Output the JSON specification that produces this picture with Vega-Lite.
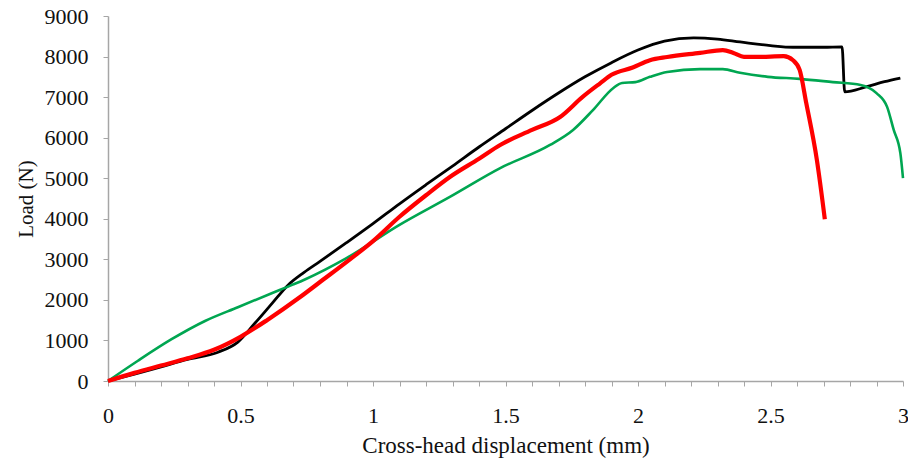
{
  "$schema": "https://vega.github.io/schema/vega-lite/v6.json",
  "width": 795,
  "height": 365,
  "autosize": "none",
  "padding": {"left": 108, "top": 16, "right": 5, "bottom": 77},
  "background": "white",
  "config": {"view": {"stroke": null}, "axis": {"grid": false}},
  "data": {"values": [
    {"s": "A", "x": 0, "y": 0},
    {"s": "A", "x": 0.1, "y": 170},
    {"s": "A", "x": 0.2, "y": 350},
    {"s": "A", "x": 0.3, "y": 530},
    {"s": "A", "x": 0.415, "y": 710},
    {"s": "A", "x": 0.49, "y": 960},
    {"s": "A", "x": 0.555, "y": 1430},
    {"s": "A", "x": 0.62, "y": 1920},
    {"s": "A", "x": 0.68, "y": 2370},
    {"s": "A", "x": 0.74, "y": 2680},
    {"s": "A", "x": 0.8, "y": 2950},
    {"s": "A", "x": 0.9, "y": 3410},
    {"s": "A", "x": 1.0, "y": 3880},
    {"s": "A", "x": 1.1, "y": 4370},
    {"s": "A", "x": 1.2, "y": 4840},
    {"s": "A", "x": 1.3, "y": 5300},
    {"s": "A", "x": 1.4, "y": 5770},
    {"s": "A", "x": 1.5, "y": 6220},
    {"s": "A", "x": 1.6, "y": 6670},
    {"s": "A", "x": 1.7, "y": 7100},
    {"s": "A", "x": 1.8, "y": 7500},
    {"s": "A", "x": 1.9, "y": 7850},
    {"s": "A", "x": 2.0, "y": 8160},
    {"s": "A", "x": 2.1, "y": 8380},
    {"s": "A", "x": 2.21, "y": 8460},
    {"s": "A", "x": 2.3, "y": 8430},
    {"s": "A", "x": 2.385, "y": 8360},
    {"s": "A", "x": 2.5, "y": 8270},
    {"s": "A", "x": 2.585, "y": 8230},
    {"s": "A", "x": 2.7, "y": 8230},
    {"s": "A", "x": 2.77, "y": 8240},
    {"s": "A", "x": 2.78, "y": 7130},
    {"s": "A", "x": 2.86, "y": 7250},
    {"s": "A", "x": 2.93, "y": 7380},
    {"s": "A", "x": 2.99, "y": 7470},
    {"s": "C", "x": 0, "y": 0},
    {"s": "C", "x": 0.113, "y": 500},
    {"s": "C", "x": 0.24, "y": 1030},
    {"s": "C", "x": 0.366, "y": 1480},
    {"s": "C", "x": 0.49, "y": 1820},
    {"s": "C", "x": 0.62, "y": 2170},
    {"s": "C", "x": 0.695, "y": 2370},
    {"s": "C", "x": 0.745, "y": 2510},
    {"s": "C", "x": 0.9, "y": 3030},
    {"s": "C", "x": 1.1, "y": 3850},
    {"s": "C", "x": 1.29, "y": 4540},
    {"s": "C", "x": 1.48, "y": 5250},
    {"s": "C", "x": 1.668, "y": 5820},
    {"s": "C", "x": 1.755, "y": 6190},
    {"s": "C", "x": 1.83, "y": 6680},
    {"s": "C", "x": 1.906, "y": 7220},
    {"s": "C", "x": 1.94, "y": 7350},
    {"s": "C", "x": 1.99, "y": 7370},
    {"s": "C", "x": 2.045, "y": 7500},
    {"s": "C", "x": 2.11, "y": 7620},
    {"s": "C", "x": 2.234, "y": 7690},
    {"s": "C", "x": 2.32, "y": 7690},
    {"s": "C", "x": 2.385, "y": 7600},
    {"s": "C", "x": 2.49, "y": 7500},
    {"s": "C", "x": 2.61, "y": 7450},
    {"s": "C", "x": 2.735, "y": 7370},
    {"s": "C", "x": 2.84, "y": 7300},
    {"s": "C", "x": 2.9, "y": 7100},
    {"s": "C", "x": 2.94, "y": 6760},
    {"s": "C", "x": 2.965, "y": 6190},
    {"s": "C", "x": 2.99, "y": 5620},
    {"s": "C", "x": 3.0, "y": 5000},
    {"s": "B", "x": 0, "y": 0},
    {"s": "B", "x": 0.1, "y": 200},
    {"s": "B", "x": 0.2, "y": 380},
    {"s": "B", "x": 0.3, "y": 560},
    {"s": "B", "x": 0.4, "y": 770},
    {"s": "B", "x": 0.5, "y": 1090},
    {"s": "B", "x": 0.6, "y": 1500},
    {"s": "B", "x": 0.725, "y": 2070},
    {"s": "B", "x": 0.8, "y": 2440},
    {"s": "B", "x": 0.913, "y": 3000},
    {"s": "B", "x": 1.0, "y": 3450},
    {"s": "B", "x": 1.1, "y": 4050},
    {"s": "B", "x": 1.2, "y": 4580},
    {"s": "B", "x": 1.29, "y": 5030},
    {"s": "B", "x": 1.4, "y": 5480},
    {"s": "B", "x": 1.48, "y": 5820},
    {"s": "B", "x": 1.6, "y": 6190},
    {"s": "B", "x": 1.706, "y": 6510},
    {"s": "B", "x": 1.79, "y": 7000},
    {"s": "B", "x": 1.857, "y": 7340},
    {"s": "B", "x": 1.9, "y": 7550},
    {"s": "B", "x": 1.98, "y": 7730},
    {"s": "B", "x": 2.045, "y": 7910},
    {"s": "B", "x": 2.11, "y": 7990},
    {"s": "B", "x": 2.234, "y": 8090},
    {"s": "B", "x": 2.32, "y": 8160},
    {"s": "B", "x": 2.36, "y": 8090},
    {"s": "B", "x": 2.4, "y": 7990},
    {"s": "B", "x": 2.45, "y": 7990},
    {"s": "B", "x": 2.55, "y": 8010},
    {"s": "B", "x": 2.585, "y": 7910},
    {"s": "B", "x": 2.61, "y": 7670},
    {"s": "B", "x": 2.635, "y": 6850},
    {"s": "B", "x": 2.675, "y": 5450},
    {"s": "B", "x": 2.705, "y": 3990}
  ]},
  "encoding": {
    "x": {
      "field": "x", "type": "quantitative",
      "scale": {"domain": [0, 3], "nice": false, "zero": false},
      "axis": {
        "title": "Cross-head displacement (mm)",
        "values": [0,0.1,0.2,0.3,0.4,0.5,0.6,0.7,0.8,0.9,1,1.1,1.2,1.3,1.4,1.5,1.6,1.7,1.8,1.9,2,2.1,2.2,2.3,2.4,2.5,2.6,2.7,2.8,2.9,3],
        "labelExpr": "(round(datum.value*10) % 5 == 0) ? format(datum.value, '~g') : ''",
        "labelOverlap": false,
        "labelFlush": false,
        "tickSize": 5,
        "tickColor": "#a6a6a6",
        "domainColor": "#a6a6a6",
        "domainWidth": 1.5,
        "labelFont": "Liberation Serif",
        "labelFontSize": 22,
        "labelColor": "#111111",
        "labelPadding": 19,
        "titleFont": "Liberation Serif",
        "titleFontSize": 23,
        "titleFontWeight": "normal",
        "titleColor": "#111111",
        "titlePadding": 8
      }
    },
    "y": {
      "field": "y", "type": "quantitative",
      "scale": {"domain": [0, 9000], "nice": false},
      "axis": {
        "title": "Load (N)",
        "values": [0,1000,2000,3000,4000,5000,6000,7000,8000,9000],
        "format": "d",
        "labelFlush": false,
        "labelOverlap": false,
        "tickSize": 5,
        "tickColor": "#a6a6a6",
        "domainColor": "#a6a6a6",
        "domainWidth": 1.5,
        "labelFont": "Liberation Serif",
        "labelFontSize": 22,
        "labelColor": "#111111",
        "labelPadding": 15,
        "titleFont": "Liberation Serif",
        "titleFontSize": 21,
        "titleFontWeight": "normal",
        "titleColor": "#111111",
        "titlePadding": 8
      }
    }
  },
  "layer": [
    {"transform": [{"filter": "datum.s == 'A'"}], "mark": {"type": "line", "interpolate": "monotone", "color": "#000000", "strokeWidth": 2.8}},
    {"transform": [{"filter": "datum.s == 'C'"}], "mark": {"type": "line", "interpolate": "monotone", "color": "#00a651", "strokeWidth": 2.6}},
    {"transform": [{"filter": "datum.s == 'B'"}], "mark": {"type": "line", "interpolate": "monotone", "color": "#ff0000", "strokeWidth": 4.2}}
  ]
}
